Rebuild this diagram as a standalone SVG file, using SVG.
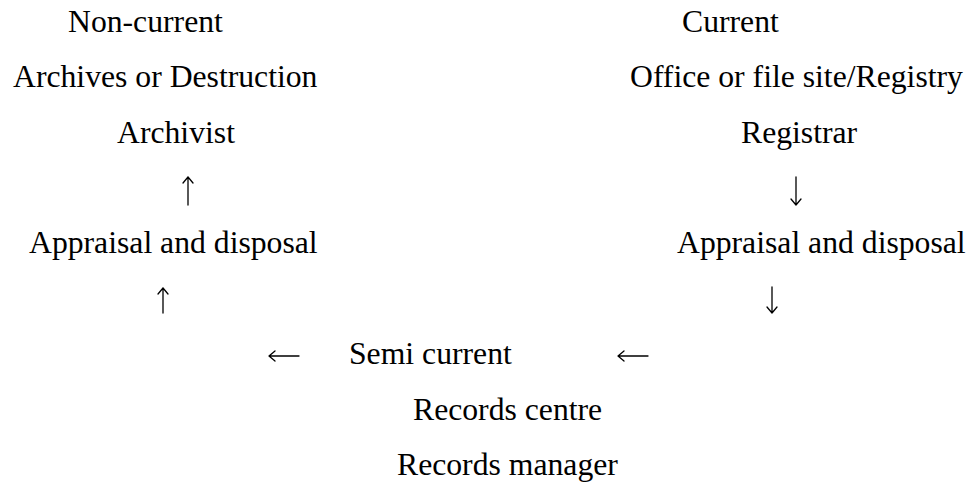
<svg xmlns="http://www.w3.org/2000/svg" width="976" height="482" viewBox="0 0 976 482">
<style>
text{font-family:"Liberation Serif","Times New Roman",serif;font-size:31.7px;fill:#000}
.arr{fill:none;stroke:#000;stroke-width:1.3;stroke-linecap:round;stroke-linejoin:round}
</style>
<rect width="976" height="482" fill="#fff"/>
<g id="noncurrent">
<text x="68" y="32">Non-current</text>
<text x="13" y="87">Archives or Destruction</text>
<text x="117" y="143">Archivist</text>
</g>
<g id="current">
<text x="682" y="32">Current</text>
<text x="630" y="87">Office or file site/Registry</text>
<text x="741" y="143">Registrar</text>
</g>
<g id="appraisal-left">
<text x="29" y="253">Appraisal and disposal</text>
</g>
<g id="appraisal-right">
<text x="677" y="253">Appraisal and disposal</text>
</g>
<g id="semicurrent">
<text x="349" y="364">Semi current</text>
<text x="413" y="420">Records centre</text>
<text x="397" y="475">Records manager</text>
</g>
<g id="connectors">
<path class="arr" d="M188 205V177M183 183L188 177L193 183"/>
<path class="arr" d="M163 313V288M158 294L163 288L168 294"/>
<path class="arr" d="M796 177V205M791 199L796 205L801 199"/>
<path class="arr" d="M772 287V313M767 307L772 313L777 307"/>
<path class="arr" d="M299 356H269M275 351L269 356L275 361"/>
<path class="arr" d="M648 356H618M624 351L618 356L624 361"/>
</g>
</svg>
